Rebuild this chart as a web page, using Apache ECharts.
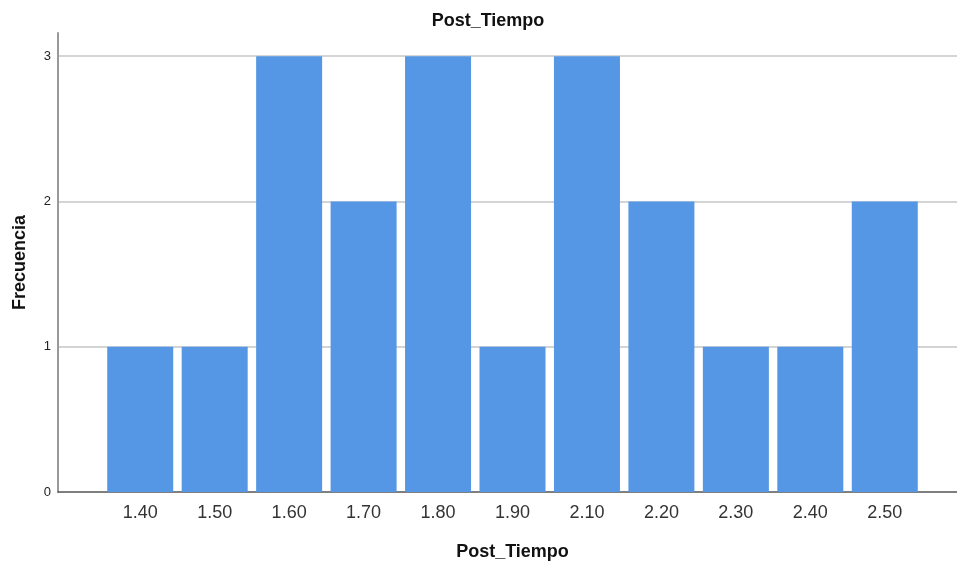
<!DOCTYPE html>
<html>
<head>
<meta charset="utf-8">
<script src="https://cdn.jsdelivr.net/npm/echarts@6/dist/echarts.min.js"></script>
<style>
  html, body { margin: 0; padding: 0; background: #fff; }
  #chart { width: 957px; height: 561px; }
</style>
</head>
<body>
<div id="chart"></div>
<script>
// categorías y frecuencias del histograma
var categorias = ['1.40', '1.50', '1.60', '1.70', '1.80', '1.90', '2.10', '2.20', '2.30', '2.40', '2.50'];
var frecuencias = [1, 1, 3, 2, 3, 1, 3, 2, 1, 1, 2];
var yTicks = [0, 1, 2, 3];

var FONT = 'Liberation Sans, Arial, sans-serif';
var yMax = 3.16;

var myChart = echarts.init(document.getElementById('chart'));
myChart.setOption({
  animation: false,
  title: {
    text: 'Post_Tiempo',
    left: 483,
    top: 7,
    textAlign: 'center',
    textStyle: { fontFamily: FONT, fontSize: 18, fontWeight: 'bold', color: '#111' }
  },
  grid: [
    { left: 58, right: 0, top: 33, bottom: 69, containLabel: false, outerBoundsMode: 'none' },
    { left: 103, right: 35, top: 33, bottom: 69, containLabel: false, outerBoundsMode: 'none' }
  ],
  xAxis: [
    {
      gridIndex: 0, type: 'value', min: 0, max: 1,
      axisLine: { show: true, lineStyle: { color: '#555', width: 1.5 } },
      axisTick: { show: false }, axisLabel: { show: false }, splitLine: { show: false }
    },
    {
      gridIndex: 1, type: 'category', data: categorias,
      name: 'Post_Tiempo', nameLocation: 'middle', nameGap: 51,
      nameTextStyle: { fontFamily: FONT, fontSize: 18, fontWeight: 'bold', color: '#111' },
      axisLine: { show: false }, axisTick: { show: false },
      axisLabel: { fontFamily: FONT, fontSize: 18, color: '#333', margin: 12 }
    }
  ],
  yAxis: [
    {
      gridIndex: 0, type: 'value', min: yTicks[0], max: yMax, interval: 1,
      name: 'Frecuencia', nameLocation: 'middle', nameGap: 29,
      nameTextStyle: { fontFamily: FONT, fontSize: 18, fontWeight: 'bold', color: '#111' },
      axisLine: { show: true, lineStyle: { color: '#999', width: 2 } },
      axisTick: { show: false },
      axisLabel: {
        fontFamily: FONT, fontSize: 13, color: '#222', margin: 7, showMaxLabel: false,
        formatter: function (v) { return yTicks.indexOf(v) >= 0 ? String(v) : ''; }
      },
      splitLine: { show: true, showMinLine: false, showMaxLine: false, lineStyle: { color: '#d4d4d4', width: 2 } }
    },
    {
      gridIndex: 1, type: 'value', min: yTicks[0], max: yMax,
      axisLine: { show: false }, axisTick: { show: false }, axisLabel: { show: false }, splitLine: { show: false }
    }
  ],
  series: [{
    type: 'bar',
    xAxisIndex: 1,
    yAxisIndex: 1,
    data: frecuencias,
    barWidth: 66,
    itemStyle: { color: '#5597E4' }
  }]
});
</script>
</body>
</html>
